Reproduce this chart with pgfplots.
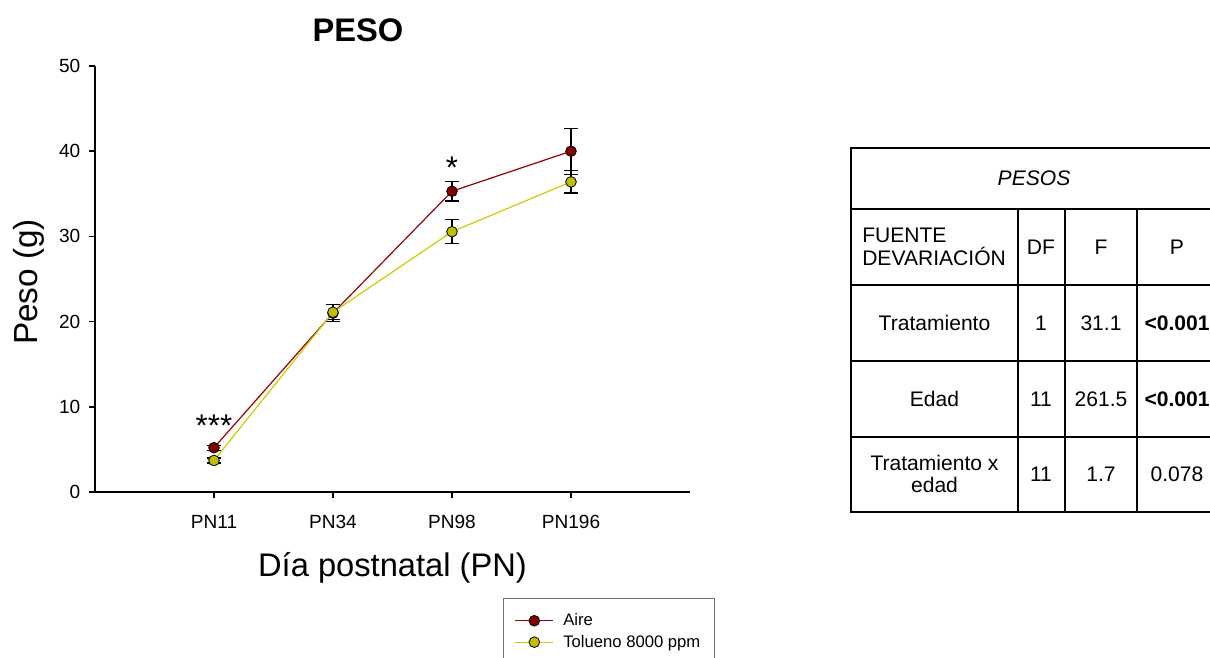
\documentclass[border=0pt]{standalone}
\usepackage{fontspec}
\setmainfont{Liberation Sans}
\usepackage{pgfplots}
\pgfplotsset{compat=1.18}

\definecolor{aireFill}{RGB}{128,0,0}
\definecolor{aireLine}{RGB}{153,0,0}
\definecolor{tolFill}{RGB}{191,191,0}
\definecolor{tolLine}{RGB}{204,204,0}

\newcommand{\fs}[1]{\fontsize{#1}{1.2\dimexpr#1pt\relax}\selectfont}

\begin{document}
\begin{tikzpicture}[x=0.75pt,y=0.75pt]
% canvas in pixel units, y measured from the bottom edge
\path[use as bounding box] (0,0) rectangle (1210,657);
\clip (0,0) rectangle (1210,657);
\coordinate (origin) at (95,165);

\begin{axis}[
  at={(origin)}, anchor=south west,
  scale only axis,
  width=446.25pt, height=319.5pt,
  xmin=-1, xmax=4, ymin=0, ymax=50,
  axis x line*=bottom, axis y line*=left,
  axis line style={line width=1.3pt},
  tick align=outside,
  major tick length=4.5pt,
  tick style={line width=1.1pt, black},
  xtick={0,1,2,3},
  xticklabels={PN11,PN34,PN98,PN196},
  ytick={0,10,20,30,40,50},
  minor tick num=0,
  /pgf/number format/assume math mode=true,
  tick label style={font=\fs{14.3}},
  xticklabel style={yshift=-9pt, text height=10.4pt, text depth=0pt},
  yticklabel style={xshift=-3pt},
  clip=false,
  legend style={
    at={(axis description cs:0.6857,-0.2488)}, anchor=north west,
    draw=black!55, line width=0.6pt,
    font=\fs{12.5},
    inner xsep=8.5pt, inner ysep=9.5pt,
    row sep=1.5pt,
    /tikz/every odd column/.append style={column sep=5pt},
  },
  legend cell align=left,
  legend image code/.code={%
    \draw[#1] (0pt,0pt) -- (28.5pt,0pt);
    \draw[#1] plot[only marks] coordinates {(14.25pt,0pt)};
  },
]

% standard errors, drawn beneath the markers
\addplot[forget plot, draw=none, mark=none,
  error bars/.cd, y dir=both, y explicit,
  error bar style={black, line width=0.9pt},
  error mark options={rotate=90, black, mark size=5pt, line width=0.9pt}]
  coordinates {(0,5.2) +- (0,0.3) (1,21.0) +- (0,1.0) (2,35.3) +- (0,1.15) (3,40.0) +- (0,2.7)};
\addplot[forget plot, draw=none, mark=none,
  error bars/.cd, y dir=both, y explicit,
  error bar style={black, line width=0.9pt},
  error mark options={rotate=90, black, mark size=5pt, line width=0.9pt}]
  coordinates {(0,3.7) +- (0,0.3) (1,21.1) +- (0,0.9) (2,30.55) +- (0,1.4) (3,36.4) +- (0,1.3)};

% group means
\addplot[aireLine, line width=0.9pt, mark=*, mark size=4pt,
  mark options={fill=aireFill, draw=black, line width=0.6pt}]
  coordinates {(0,5.2) (1,21.0) (2,35.3) (3,40.0)};
\addlegendentry{Aire}
\addplot[tolLine, line width=0.9pt, mark=*, mark size=4pt,
  mark options={fill=tolFill, draw=black, line width=0.6pt}]
  coordinates {(0,3.7) (1,21.1) (2,30.55) (3,36.4)};
\addlegendentry{Tolueno 8000 ppm}

% significance marks
\node[anchor=base, font=\fs{23.5}, inner sep=0pt] at (axis cs:0,6.5) {***};
\node[anchor=base, font=\fs{23.5}, inner sep=0pt] at (axis cs:2,36.8) {*};
\end{axis}

% titles
\node[font=\bfseries\fs{24.5}] at (358,627) {PESO};
\node[rotate=90, anchor=base, font=\fs{25}] at (37,375) {Peso (g)};
\node[anchor=base, font=\fs{24.5}] at (392.5,80.5) {Día postnatal (PN)};

% ANOVA table
\begin{scope}[line width=1.2pt]
  \draw (851,509) rectangle (1218,145);
  \draw (851,448) -- (1218,448);
  \draw (851,372) -- (1218,372);
  \draw (851,296) -- (1218,296);
  \draw (851,220) -- (1218,220);
  \draw (1018,448) -- (1018,145);
  \draw (1065,448) -- (1065,145);
  \draw (1137,448) -- (1137,145);
\end{scope}
\begin{scope}[font=\fs{15.8}, inner sep=0pt]
  \node at (1034,479) {\itshape PESOS};
  \node[anchor=west, align=left] at (862,410) {FUENTE\\[-2pt]DEVARIACIÓN};
  \node at (1041,410) {DF};
  \node at (1101,410) {F};
  \node at (1177,410) {P};
  \node at (934.5,334) {Tratamiento};
  \node at (1041,334) {1};
  \node at (1101,334) {31.1};
  \node at (1177,334) {\bfseries <0.001};
  \node at (934.5,258) {Edad};
  \node at (1041,258) {11};
  \node at (1101,258) {261.5};
  \node at (1177,258) {\bfseries <0.001};
  \node[align=center] at (934.5,183) {Tratamiento x\\[-2pt]edad};
  \node at (1041,183) {11};
  \node at (1101,183) {1.7};
  \node at (1177,183) {0.078};
\end{scope}
\end{tikzpicture}
\end{document}
